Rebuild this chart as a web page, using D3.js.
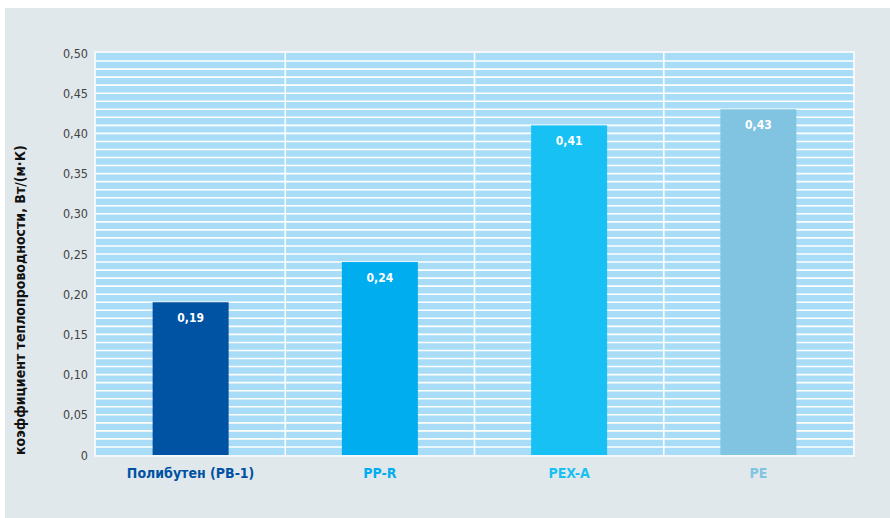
<!DOCTYPE html>
<html>
<head>
<meta charset="utf-8">
<script src="https://cdn.jsdelivr.net/npm/d3@7"></script>
<style>
  body { margin: 0; background: #fff; }
</style>
</head>
<body>
<script>
// данные графика
const categories = ["Полибутен (PB-1)", "PP-R", "PEX-A", "PE"];
const values = [0.19, 0.24, 0.41, 0.43];
const valueLabels = ["0,19", "0,24", "0,41", "0,43"];
const barColors = ["#0052a3", "#00adef", "#17c1f3", "#80c4e2"];
const yTicks = [0, 0.05, 0.10, 0.15, 0.20, 0.25, 0.30, 0.35, 0.40, 0.45, 0.50];
const yTickLabels = ["0", "0,05", "0,10", "0,15", "0,20", "0,25", "0,30", "0,35", "0,40", "0,45", "0,50"];
const yTitle = "коэффициент теплопроводности, Вт/(м·К)";

const width = 890, height = 518;
const margin = { left: 96, right: 37, top: 53, bottom: 63 };
const font = "'DejaVu Sans Condensed', 'Liberation Sans Narrow', sans-serif";

const svg = d3.select("body").append("svg")
  .attr("width", width)
  .attr("height", height);

// серый фон
svg.append("rect")
  .attr("x", 5).attr("y", 8)
  .attr("width", width - 5).attr("height", height - 8)
  .attr("fill", "#e0e8eb");

const x = d3.scaleBand()
  .domain(categories)
  .range([margin.left, width - margin.right])
  .paddingInner(0).paddingOuter(0);

const y = d3.scaleLinear()
  .domain([0, 0.5])
  .range([height - margin.bottom, margin.top]);

// область графика
svg.append("rect")
  .attr("x", margin.left - 1).attr("y", margin.top - 1)
  .attr("width", width - margin.left - margin.right + 2)
  .attr("height", height - margin.top - margin.bottom + 2)
  .attr("fill", "#a9ddf7")
  .attr("stroke", "#f4f8fa")
  .attr("stroke-width", 2);

// горизонтальные линии через 0,01
svg.append("g")
  .selectAll("line")
  .data(d3.range(1, 50).map(i => i / 100))
  .join("line")
  .attr("x1", margin.left).attr("x2", width - margin.right)
  .attr("y1", d => y(d)).attr("y2", d => y(d))
  .attr("stroke", "#ffffff")
  .attr("stroke-width", 1.6);

// вертикальные разделители
svg.append("g")
  .selectAll("line")
  .data(categories.slice(1))
  .join("line")
  .attr("x1", d => x(d)).attr("x2", d => x(d))
  .attr("y1", margin.top).attr("y2", height - margin.bottom)
  .attr("stroke", "#ffffff")
  .attr("stroke-width", 1.6);

// ось Y
const yAxis = d3.axisLeft(y)
  .tickValues(yTicks)
  .tickFormat((d, i) => yTickLabels[i])
  .tickSize(0)
  .tickPadding(8);

svg.append("g")
  .attr("transform", `translate(${margin.left},0)`)
  .call(yAxis)
  .call(g => g.select(".domain").remove())
  .selectAll("text")
  .attr("font-family", font)
  .attr("font-size", 12.5)
  .attr("fill", "#444");

// столбцы
const barW = 76;
svg.append("g")
  .selectAll("rect")
  .data(values)
  .join("rect")
  .attr("x", (d, i) => x(categories[i]) + x.bandwidth() / 2 - barW / 2)
  .attr("y", d => y(d))
  .attr("width", barW)
  .attr("height", d => y(0) - y(d))
  .attr("fill", (d, i) => barColors[i]);

// подписи значений
svg.append("g")
  .selectAll("text")
  .data(values)
  .join("text")
  .attr("x", (d, i) => x(categories[i]) + x.bandwidth() / 2)
  .attr("y", d => y(d) + 20)
  .attr("text-anchor", "middle")
  .attr("font-family", font)
  .attr("font-weight", "bold")
  .attr("font-size", 12)
  .attr("fill", "#ffffff")
  .text((d, i) => valueLabels[i]);

// подписи категорий
svg.append("g")
  .selectAll("text")
  .data(categories)
  .join("text")
  .attr("x", d => x(d) + x.bandwidth() / 2)
  .attr("y", height - margin.bottom + 23)
  .attr("text-anchor", "middle")
  .attr("font-family", font)
  .attr("font-weight", "bold")
  .attr("font-size", 14)
  .attr("fill", (d, i) => barColors[i])
  .text(d => d);

// заголовок оси Y
svg.append("text")
  .attr("transform", `translate(25,${y(0)}) rotate(-90)`)
  .attr("text-anchor", "start")
  .attr("font-family", font)
  .attr("font-weight", "bold")
  .attr("font-size", 14)
  .attr("fill", "#111")
  .text(yTitle);
</script>
</body>
</html>
